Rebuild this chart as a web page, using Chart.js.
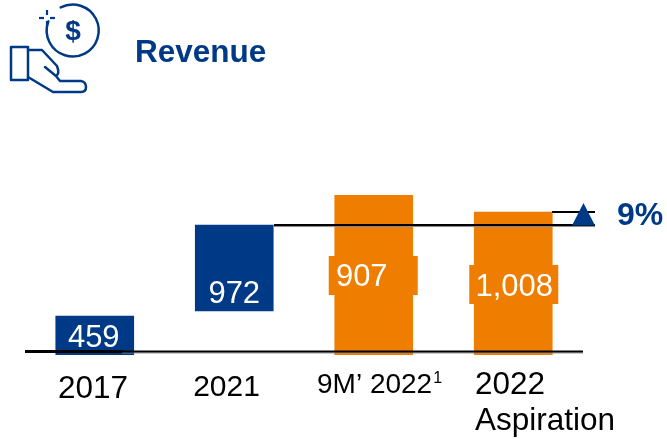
<!DOCTYPE html>
<html><head><meta charset="utf-8">
<style>html,body{margin:0;padding:0;background:#fff}canvas{display:block}</style>
<script src="https://cdn.jsdelivr.net/npm/chart.js@4"></script></head>
<body><canvas id="c" width="667" height="439"></canvas>
<script>
const categories = ["2017", "2021", "9M’ 2022", "2022"];
const revenueLabels = ["459", "972", "907", "1,008"];
const barLow = [0, 310, 0, 0];
const barHigh = [275, 916, 1128, 1008];
const referenceLevels = [25, 916, 1008];
const growthLabel = "9%";
const titleText = "Revenue";
const NAVY = "#003A86", ORANGE = "#EE7D00", FONT = '"Liberation Sans", Arial, sans-serif';

const annotate = {
  id: "annotate",
  afterDatasetsDraw(chart) {
    const {ctx} = chart, x = chart.scales.x, y = chart.scales.y;
    ctx.save();
    const text = (s, px, py, size, color, weight, align) => {
      ctx.font = (weight || "normal") + " " + size + "px " + FONT;
      ctx.fillStyle = color; ctx.textAlign = align || "center"; ctx.textBaseline = "middle";
      ctx.fillText(s, px, py);
    };
    const line = (x0, x1, py, w, color) => {
      ctx.strokeStyle = color; ctx.lineWidth = w;
      ctx.beginPath(); ctx.moveTo(x0, py); ctx.lineTo(x1, py); ctx.stroke();
    };
    // label plates on the orange bars
    ctx.fillStyle = ORANGE;
    ctx.fillRect(x.getPixelForTick(2) - 45, 256, 89, 39);
    ctx.fillRect(x.getPixelForTick(3) - 44, 265, 89, 39);
    // value labels
    const off = [[-1, 338], [0, 294], [-12, 277], [1, 287]];
    revenueLabels.forEach((s, i) => text(s, x.getPixelForTick(i) + off[i][0], off[i][1], 31, "#fff"));
    // reference lines
    const yb = y.getPixelForValue(referenceLevels[0]);
    line(122, 583, yb + 1.5, 1, "#8a8a8a");
    line(122, 583, yb, 2, "#000");
    line(25, 122, yb, 3, "#000");
    const yt = y.getPixelForValue(referenceLevels[1]);
    line(274, 595, yt + 1.5, 1, "#8a8a8a");
    line(274, 595, yt, 2, "#000");
    const ya = y.getPixelForValue(referenceLevels[2]);
    line(552, 595, ya, 2, "#000");
    // growth triangle
    ctx.fillStyle = NAVY;
    ctx.beginPath(); ctx.moveTo(572, 225.5); ctx.lineTo(583.5, 203); ctx.lineTo(595, 225.5); ctx.closePath(); ctx.fill();
    text(growthLabel, 617, 216.5, 32, NAVY, "bold", "left");
    // category labels
    text(categories[0], 93, 389.5, 31.5, "#000");
    text(categories[1], 226.5, 387.5, 30, "#000");
    ctx.font = "28px " + FONT;
    const w = ctx.measureText(categories[2]).width;
    text(categories[2], 317, 385.5, 28, "#000", "normal", "left");
    text("1", 317 + w + 1, 379, 16, "#000", "normal", "left");
    text(categories[3], 475, 385.5, 31.5, "#000", "normal", "left");
    text("Aspiration", 475, 421.5, 31.5, "#000", "normal", "left");
    // title
    text(titleText, 135, 53, 31.5, NAVY, "bold", "left");
    // icon
    ctx.strokeStyle = NAVY; ctx.lineWidth = 2.5; ctx.lineJoin = "round"; ctx.lineCap = "round";
    ctx.beginPath(); ctx.arc(72.7, 30.5, 26, -2.05, 3.5); ctx.stroke();
    ctx.beginPath(); ctx.rect(11, 47, 17, 33); ctx.stroke();
    ctx.beginPath();
    ctx.moveTo(28, 50); ctx.lineTo(42, 50); ctx.lineTo(57, 66);
    ctx.quadraticCurveTo(60, 74, 56, 76); ctx.lineTo(45, 67);
    ctx.moveTo(56, 76); ctx.lineTo(60, 81); ctx.lineTo(81, 81);
    ctx.quadraticCurveTo(86, 82, 86, 87); ctx.quadraticCurveTo(86, 92, 81, 92);
    ctx.lineTo(53, 92); ctx.lineTo(28, 77);
    ctx.stroke();
    ctx.lineWidth = 2.2; ctx.lineCap = "butt";
    [[47, 10, 47, 15], [47, 21, 47, 26], [39, 18, 44, 18], [50, 18, 55, 18]].forEach(d => {
      ctx.beginPath(); ctx.moveTo(d[0], d[1]); ctx.lineTo(d[2], d[3]); ctx.stroke();
    });
    text("$", 73, 32, 28, NAVY, "bold");
    ctx.restore();
  }
};

new Chart(document.getElementById("c"), {
  type: "bar",
  data: {
    labels: categories,
    datasets: [{
      data: barLow.map((v, i) => [v, barHigh[i]]),
      backgroundColor: [NAVY, NAVY, ORANGE, ORANGE],
      borderWidth: 0,
      barThickness: 78
    }]
  },
  options: {
    responsive: false,
    animation: false,
    layout: {padding: {left: 25, right: 84, top: 195, bottom: 84}},
    plugins: {legend: {display: false}, tooltip: {enabled: false}},
    scales: {
      x: {display: false},
      y: {display: false, min: 0, max: 1128}
    }
  },
  plugins: [annotate]
});
</script></body></html>
